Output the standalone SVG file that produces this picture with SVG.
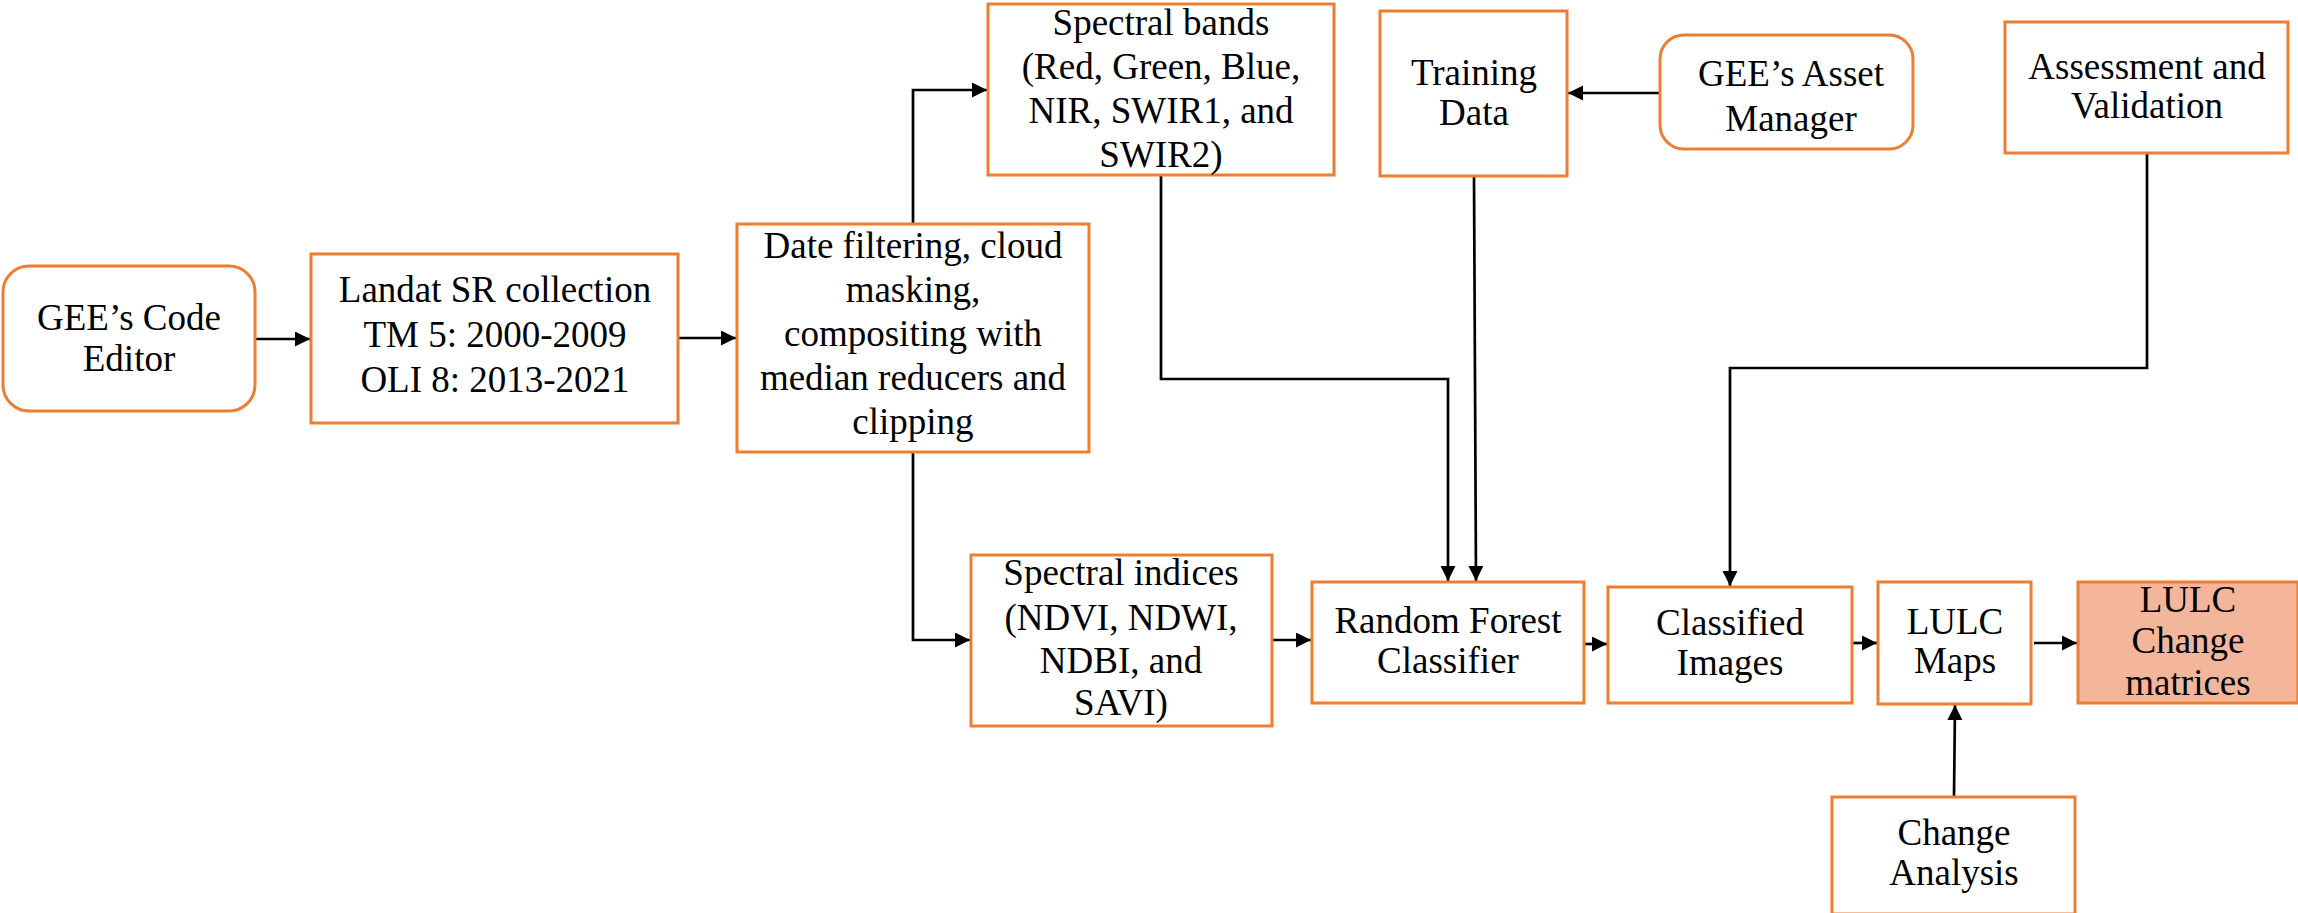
<svg xmlns="http://www.w3.org/2000/svg" width="2298" height="913" viewBox="0 0 2298 913">
<style>
.box{fill:#ffffff;stroke:#ED7D31;stroke-width:3}
.hl{fill:#F4B69B;stroke:#ED7D31;stroke-width:3}
.t{font-family:"Liberation Serif","Times New Roman",serif;font-size:37px;fill:#000;text-anchor:middle}
.c{fill:none;stroke:#000;stroke-width:2.7}
</style>
<defs>
<marker id="ah" markerUnits="userSpaceOnUse" markerWidth="16" markerHeight="16" refX="15" refY="7.5" orient="auto">
<path d="M0,0 L15,7.5 L0,15 z" fill="#000"/>
</marker>
</defs>
<rect width="2298" height="913" fill="#ffffff"/>
<g id="connectors">
<path class="c" d="M255,339 H310" marker-end="url(#ah)"/>
<path class="c" d="M678,338 H736" marker-end="url(#ah)"/>
<path class="c" d="M913,224 V90 H987" marker-end="url(#ah)"/>
<path class="c" d="M913,452 V640 H970" marker-end="url(#ah)"/>
<path class="c" d="M1272,640 H1311" marker-end="url(#ah)"/>
<path class="c" d="M1161,175 V379 H1448 V581" marker-end="url(#ah)"/>
<path class="c" d="M1474,176 L1476,581" marker-end="url(#ah)"/>
<path class="c" d="M1660,93 H1568" marker-end="url(#ah)"/>
<path class="c" d="M1584,644 H1607" marker-end="url(#ah)"/>
<path class="c" d="M2147,153 V368 H1730 V586" marker-end="url(#ah)"/>
<path class="c" d="M1852,643 H1877" marker-end="url(#ah)"/>
<path class="c" d="M2034,643 H2077" marker-end="url(#ah)"/>
<path class="c" d="M1954,797 L1955,705" marker-end="url(#ah)"/>
</g>
<g id="gee-code-editor">
<rect class="box" x="3" y="266" width="252" height="145" rx="26" ry="26"/>
<text class="t" x="129" y="330">GEE’s Code</text>
<text class="t" x="129" y="371">Editor</text>
</g>
<g id="landsat-sr">
<rect class="box" x="311" y="254" width="367" height="169"/>
<text class="t" x="495" y="302">Landat SR collection</text>
<text class="t" x="495" y="347">TM 5: 2000-2009</text>
<text class="t" x="495" y="392">OLI 8: 2013-2021</text>
</g>
<g id="date-filtering">
<rect class="box" x="737" y="224" width="352" height="228"/>
<text class="t" x="913" y="258">Date filtering, cloud</text>
<text class="t" x="913" y="302">masking,</text>
<text class="t" x="913" y="346">compositing with</text>
<text class="t" x="913" y="390">median reducers and</text>
<text class="t" x="913" y="434">clipping</text>
</g>
<g id="spectral-bands">
<rect class="box" x="988" y="4" width="346" height="171"/>
<text class="t" x="1161" y="35">Spectral bands</text>
<text class="t" x="1161" y="79">(Red, Green, Blue,</text>
<text class="t" x="1161" y="123">NIR, SWIR1, and</text>
<text class="t" x="1161" y="167">SWIR2)</text>
</g>
<g id="training-data">
<rect class="box" x="1380" y="11" width="187" height="165"/>
<text class="t" x="1474" y="85">Training</text>
<text class="t" x="1474" y="125">Data</text>
</g>
<g id="asset-manager">
<rect class="box" x="1660" y="35" width="253" height="114" rx="24" ry="24"/>
<text class="t" x="1791" y="86">GEE’s Asset</text>
<text class="t" x="1791" y="131">Manager</text>
</g>
<g id="assessment">
<rect class="box" x="2005" y="22" width="283" height="131"/>
<text class="t" x="2147" y="79">Assessment and</text>
<text class="t" x="2147" y="118">Validation</text>
</g>
<g id="spectral-indices">
<rect class="box" x="971" y="555" width="301" height="171"/>
<text class="t" x="1121" y="585">Spectral indices</text>
<text class="t" x="1121" y="630">(NDVI, NDWI,</text>
<text class="t" x="1121" y="673">NDBI, and</text>
<text class="t" x="1121" y="715">SAVI)</text>
</g>
<g id="random-forest">
<rect class="box" x="1312" y="582" width="272" height="121"/>
<text class="t" x="1448" y="633">Random Forest</text>
<text class="t" x="1448" y="673">Classifier</text>
</g>
<g id="classified-images">
<rect class="box" x="1608" y="587" width="244" height="116"/>
<text class="t" x="1730" y="635">Classified</text>
<text class="t" x="1730" y="675">Images</text>
</g>
<g id="lulc-maps">
<rect class="box" x="1878" y="582" width="153" height="122"/>
<text class="t" x="1955" y="634">LULC</text>
<text class="t" x="1955" y="673">Maps</text>
</g>
<g id="lulc-change-matrices">
<rect class="hl" x="2078" y="582" width="220" height="121"/>
<text class="t" x="2188" y="612">LULC</text>
<text class="t" x="2188" y="653">Change</text>
<text class="t" x="2188" y="695">matrices</text>
</g>
<g id="change-analysis">
<rect class="box" x="1832" y="797" width="243" height="117"/>
<text class="t" x="1954" y="845">Change</text>
<text class="t" x="1954" y="885">Analysis</text>
</g>
</svg>
